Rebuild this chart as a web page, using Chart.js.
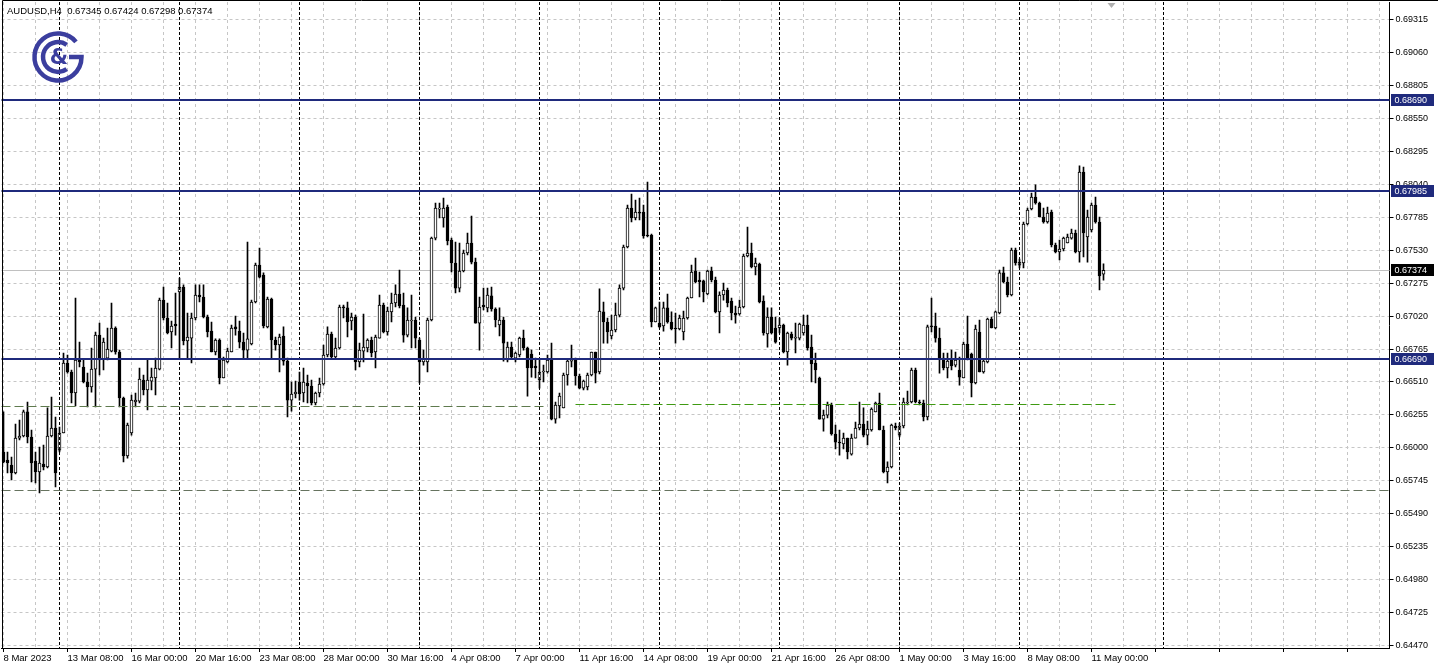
<!DOCTYPE html>
<html>
<head>
<meta charset="utf-8">
<script src="https://cdn.jsdelivr.net/npm/chart.js@4/dist/chart.umd.min.js"></script>
<style>
  html, body { margin: 0; padding: 0; background: #fff; }
</style>
</head>
<body>
<canvas id="chart" width="1438" height="671"></canvas>
<script>
(function () {
  const symbolTitle = "AUDUSD,H4  0.67345 0.67424 0.67298 0.67374";

  const timeLabels = [
    "8 Mar 2023", "13 Mar 08:00", "16 Mar 00:00", "20 Mar 16:00", "23 Mar 08:00",
    "28 Mar 00:00", "30 Mar 16:00", "4 Apr 08:00", "7 Apr 00:00", "11 Apr 16:00",
    "14 Apr 08:00", "19 Apr 00:00", "21 Apr 16:00", "26 Apr 08:00", "1 May 00:00",
    "3 May 16:00", "8 May 08:00", "11 May 00:00"
  ];
  const labelEvery = 16;   // one time label every 16 H4 bars
  const gridEvery = 8;
  const slotCount = 347;   // bars that fit in the window (incl. empty space on the right)

  const yTicks = [
    0.64470, 0.64725, 0.64980, 0.65235, 0.65490, 0.65745, 0.66000, 0.66255, 0.66510, 0.66765,
    0.67020, 0.67275, 0.67530, 0.67785, 0.68040, 0.68295, 0.68550, 0.68805, 0.69060, 0.69315
  ];
  const yMin = 0.64451;
  const yMax = 0.69451;

  const opens = [
    0.65968, 0.65906, 0.65867, 0.65806, 0.66076, 0.66092, 0.66278, 0.66084, 0.65898, 0.65813,
    0.65875, 0.65852, 0.66092, 0.66154, 0.65983, 0.66115, 0.66657, 0.66587, 0.66425, 0.66688,
    0.66626, 0.66510, 0.66471, 0.66610, 0.66873, 0.66688, 0.66695, 0.66749, 0.66928, 0.66742,
    0.66386, 0.65937, 0.66115, 0.66355, 0.66362, 0.66525, 0.66448, 0.66517, 0.66541, 0.66610,
    0.67144, 0.67005, 0.66897, 0.66959, 0.67207, 0.67245, 0.66827, 0.66850, 0.67005, 0.67183,
    0.67168, 0.67013, 0.66904, 0.66742, 0.66835, 0.66541, 0.66665, 0.66742, 0.66936, 0.66904,
    0.66819, 0.66757, 0.66804, 0.67129, 0.67415, 0.67338, 0.66936, 0.67152, 0.66835, 0.66796,
    0.66866, 0.66672, 0.66370, 0.66417, 0.66510, 0.66425, 0.66502, 0.66479, 0.66347, 0.66425,
    0.66494, 0.66719, 0.66881, 0.66703, 0.66773, 0.67090, 0.67083, 0.66982, 0.67013, 0.66665,
    0.66749, 0.66773, 0.66835, 0.66742, 0.66850, 0.67106, 0.66897, 0.67052, 0.67121, 0.67191,
    0.67106, 0.66873, 0.66982, 0.66990, 0.66835, 0.66665, 0.66665, 0.66990, 0.67624, 0.67848,
    0.67779, 0.67864, 0.67609, 0.67431, 0.67237, 0.67369, 0.67508, 0.67586, 0.67438, 0.66966,
    0.67106, 0.67083, 0.67176, 0.67075, 0.66951, 0.66990, 0.66680, 0.66780, 0.66695, 0.66719,
    0.66850, 0.66773, 0.66726, 0.66634, 0.66525, 0.66587, 0.66587, 0.66680, 0.66223, 0.66324,
    0.66309, 0.66564, 0.66672, 0.66688, 0.66556, 0.66463, 0.66471, 0.66564, 0.66742, 0.66587,
    0.67052, 0.66974, 0.66866, 0.66912, 0.67028, 0.67237, 0.67555, 0.67856, 0.67779, 0.67825,
    0.67825, 0.67647, 0.67647, 0.66974, 0.66966, 0.66943, 0.67083, 0.66974, 0.66928, 0.66920,
    0.66897, 0.67005, 0.67160, 0.67369, 0.67299, 0.67292, 0.67191, 0.67369, 0.67299, 0.67052,
    0.67183, 0.67222, 0.67137, 0.67044, 0.67036, 0.67090, 0.67485, 0.67508, 0.67400, 0.67423,
    0.67137, 0.66881, 0.67013, 0.66928, 0.66928, 0.66951, 0.66742, 0.66881, 0.66850, 0.66850,
    0.66889, 0.66951, 0.66780, 0.66657, 0.66541, 0.66223, 0.66254, 0.66332, 0.66107, 0.66045,
    0.66030, 0.66076, 0.65952, 0.66076, 0.66154, 0.66185, 0.66099, 0.66138, 0.66278, 0.66347,
    0.66138, 0.65813, 0.65852, 0.66169, 0.66099, 0.66169, 0.66347, 0.66355, 0.66603, 0.66355,
    0.66347, 0.66239, 0.66943, 0.66943, 0.66850, 0.66695, 0.66618, 0.66680, 0.66641, 0.66603,
    0.66541, 0.66804, 0.66726, 0.66502, 0.66897, 0.66587, 0.66665, 0.66997, 0.66928, 0.67044,
    0.67354, 0.67284, 0.67183, 0.67531, 0.67415, 0.67431, 0.67733, 0.67849, 0.67941, 0.67895,
    0.67787, 0.67748, 0.67825, 0.67570, 0.67516, 0.67539, 0.67586, 0.67624, 0.67663, 0.67516,
    0.68135, 0.67632, 0.67686, 0.67879, 0.67748, 0.67345
  ];
  const highs = [
    0.66278, 0.65968, 0.65929, 0.66185, 0.66216, 0.66293, 0.66355, 0.66138, 0.65968, 0.66007,
    0.66022, 0.66309, 0.66393, 0.66239, 0.66161, 0.66734, 0.66719, 0.66603, 0.67160, 0.66819,
    0.66680, 0.66579, 0.66773, 0.66897, 0.66966, 0.66850, 0.66928, 0.67121, 0.66936, 0.66757,
    0.66393, 0.66192, 0.66409, 0.66425, 0.66618, 0.66564, 0.66688, 0.66618, 0.66695, 0.67160,
    0.67245, 0.67121, 0.66982, 0.67199, 0.67315, 0.67261, 0.67044, 0.67044, 0.67261, 0.67261,
    0.67261, 0.67028, 0.66974, 0.66843, 0.66843, 0.66703, 0.66773, 0.66951, 0.67021, 0.66982,
    0.66889, 0.67593, 0.67144, 0.67431, 0.67547, 0.67354, 0.67168, 0.67160, 0.66858, 0.66881,
    0.66936, 0.66695, 0.66510, 0.66517, 0.66587, 0.66618, 0.66564, 0.66525, 0.66432, 0.66541,
    0.66796, 0.66936, 0.66897, 0.66850, 0.67106, 0.67106, 0.67129, 0.67044, 0.67028, 0.66811,
    0.67036, 0.66843, 0.66858, 0.66873, 0.67183, 0.67121, 0.67090, 0.67199, 0.67261, 0.67377,
    0.67199, 0.67083, 0.67183, 0.67013, 0.66850, 0.66757, 0.67005, 0.67632, 0.67895, 0.67895,
    0.67934, 0.67879, 0.67624, 0.67593, 0.67586, 0.67531, 0.67663, 0.67795, 0.67469, 0.67168,
    0.67237, 0.67237, 0.67245, 0.67083, 0.67083, 0.67013, 0.66819, 0.66819, 0.66742, 0.66858,
    0.66912, 0.66780, 0.66757, 0.66695, 0.66680, 0.66641, 0.66719, 0.66811, 0.66355, 0.66425,
    0.66579, 0.66680, 0.66796, 0.66695, 0.66572, 0.66525, 0.66579, 0.66742, 0.66742, 0.67230,
    0.67129, 0.67005, 0.67028, 0.67121, 0.67261, 0.67570, 0.67879, 0.67965, 0.67918, 0.67934,
    0.67879, 0.68058, 0.67655, 0.67090, 0.67129, 0.67129, 0.67191, 0.67052, 0.67044, 0.67028,
    0.67059, 0.67168, 0.67415, 0.67469, 0.67361, 0.67299, 0.67377, 0.67400, 0.67322, 0.67207,
    0.67276, 0.67237, 0.67160, 0.67098, 0.67144, 0.67500, 0.67709, 0.67586, 0.67469, 0.67431,
    0.67176, 0.67083, 0.67083, 0.67013, 0.67005, 0.66959, 0.66897, 0.66897, 0.66966, 0.66966,
    0.67028, 0.67028, 0.66873, 0.66734, 0.66548, 0.66293, 0.66355, 0.66347, 0.66177, 0.66138,
    0.66115, 0.66076, 0.66107, 0.66200, 0.66355, 0.66309, 0.66208, 0.66309, 0.66355, 0.66425,
    0.66169, 0.65891, 0.66185, 0.66192, 0.66192, 0.66386, 0.66440, 0.66618, 0.66618, 0.66370,
    0.66370, 0.66951, 0.67160, 0.67044, 0.66928, 0.66734, 0.66734, 0.66757, 0.66742, 0.66703,
    0.66819, 0.67021, 0.66734, 0.66951, 0.66990, 0.66688, 0.67005, 0.67013, 0.67059, 0.67377,
    0.67400, 0.67322, 0.67547, 0.67547, 0.67462, 0.67748, 0.67856, 0.67972, 0.68035, 0.67903,
    0.67856, 0.67864, 0.67841, 0.67586, 0.67609, 0.67632, 0.67655, 0.67694, 0.67686, 0.68182,
    0.68174, 0.67841, 0.67895, 0.67941, 0.67787, 0.67424
  ];
  const lows = [
    0.65883, 0.65806, 0.65751, 0.65798, 0.66061, 0.66084, 0.66038, 0.65736, 0.65728, 0.65651,
    0.65829, 0.65844, 0.66084, 0.65697, 0.65968, 0.66115, 0.66579, 0.66347, 0.66324, 0.66626,
    0.66502, 0.66316, 0.66432, 0.66316, 0.66564, 0.66603, 0.66680, 0.66742, 0.66726, 0.66316,
    0.65891, 0.65921, 0.66099, 0.66316, 0.66347, 0.66409, 0.66293, 0.66448, 0.66409, 0.66603,
    0.66990, 0.66881, 0.66773, 0.66873, 0.66695, 0.66796, 0.66695, 0.66657, 0.66990, 0.67129,
    0.67005, 0.66858, 0.66742, 0.66719, 0.66494, 0.66541, 0.66657, 0.66742, 0.66873, 0.66773,
    0.66695, 0.66695, 0.66796, 0.67121, 0.67315, 0.66928, 0.66928, 0.66695, 0.66757, 0.66587,
    0.66641, 0.66239, 0.66285, 0.66386, 0.66370, 0.66355, 0.66347, 0.66332, 0.66332, 0.66394,
    0.66486, 0.66703, 0.66695, 0.66695, 0.66765, 0.67005, 0.66858, 0.66912, 0.66603, 0.66626,
    0.66665, 0.66742, 0.66703, 0.66618, 0.66850, 0.66889, 0.66873, 0.66974, 0.67090, 0.67083,
    0.66819, 0.66858, 0.66773, 0.66773, 0.66502, 0.66641, 0.66587, 0.66982, 0.67609, 0.67779,
    0.67709, 0.67570, 0.67361, 0.67199, 0.67207, 0.67361, 0.67493, 0.67423, 0.66966, 0.66757,
    0.67067, 0.67052, 0.67059, 0.66936, 0.66866, 0.66672, 0.66665, 0.66695, 0.66665, 0.66703,
    0.66757, 0.66401, 0.66548, 0.66541, 0.66463, 0.66510, 0.66579, 0.66216, 0.66192, 0.66231,
    0.66309, 0.66486, 0.66626, 0.66486, 0.66456, 0.66448, 0.66448, 0.66556, 0.66502, 0.66572,
    0.66811, 0.66811, 0.66843, 0.66897, 0.67013, 0.67222, 0.67547, 0.67748, 0.67764, 0.67764,
    0.67624, 0.67632, 0.66936, 0.66974, 0.66928, 0.66904, 0.66966, 0.66912, 0.66811, 0.66912,
    0.66835, 0.66997, 0.67160, 0.67276, 0.67168, 0.67129, 0.67183, 0.67284, 0.67044, 0.66889,
    0.67144, 0.67090, 0.66990, 0.66966, 0.67028, 0.67083, 0.67477, 0.67392, 0.67338, 0.67121,
    0.66873, 0.66780, 0.66881, 0.66811, 0.66889, 0.66734, 0.66641, 0.66835, 0.66734, 0.66835,
    0.66873, 0.66757, 0.66510, 0.66502, 0.66223, 0.66130, 0.66231, 0.66099, 0.65991, 0.65944,
    0.65991, 0.65914, 0.65944, 0.66076, 0.66138, 0.66084, 0.66022, 0.66130, 0.66278, 0.66138,
    0.65806, 0.65728, 0.65844, 0.66138, 0.66084, 0.66154, 0.66332, 0.66347, 0.66347, 0.66332,
    0.66208, 0.66216, 0.66897, 0.66819, 0.66579, 0.66603, 0.66541, 0.66603, 0.66626, 0.66486,
    0.66541, 0.66680, 0.66394, 0.66494, 0.66587, 0.66579, 0.66657, 0.66928, 0.66920, 0.67036,
    0.67276, 0.67168, 0.67176, 0.67415, 0.67392, 0.67392, 0.67725, 0.67841, 0.67887, 0.67787,
    0.67740, 0.67740, 0.67555, 0.67508, 0.67454, 0.67524, 0.67586, 0.67616, 0.67508, 0.67438,
    0.67477, 0.67438, 0.67671, 0.67740, 0.67222, 0.67298
  ];
  const closes = [
    0.65891, 0.65883, 0.65806, 0.66076, 0.66092, 0.66278, 0.66084, 0.65883, 0.65813, 0.65883,
    0.65852, 0.66092, 0.66154, 0.65806, 0.66115, 0.66657, 0.66587, 0.66425, 0.66680, 0.66665,
    0.66510, 0.66471, 0.66610, 0.66873, 0.66680, 0.66819, 0.66765, 0.66928, 0.66742, 0.66386,
    0.65937, 0.66177, 0.66370, 0.66370, 0.66533, 0.66448, 0.66525, 0.66548, 0.66618, 0.67144,
    0.67005, 0.66889, 0.66943, 0.66943, 0.67245, 0.66827, 0.66858, 0.67005, 0.67183, 0.67168,
    0.67013, 0.66897, 0.66742, 0.66835, 0.66541, 0.66680, 0.66749, 0.66928, 0.66920, 0.66819,
    0.66757, 0.66843, 0.67129, 0.67415, 0.67322, 0.66943, 0.67152, 0.66835, 0.66796, 0.66858,
    0.66672, 0.66370, 0.66417, 0.66432, 0.66417, 0.66510, 0.66479, 0.66347, 0.66425, 0.66494,
    0.66719, 0.66881, 0.66703, 0.66773, 0.67090, 0.67083, 0.66974, 0.67013, 0.66665, 0.66757,
    0.66780, 0.66835, 0.66734, 0.66858, 0.67106, 0.66897, 0.67059, 0.67121, 0.67191, 0.67098,
    0.66873, 0.66990, 0.66990, 0.66850, 0.66665, 0.66688, 0.66990, 0.67624, 0.67856, 0.67856,
    0.67856, 0.67601, 0.67431, 0.67237, 0.67369, 0.67508, 0.67586, 0.67438, 0.66966, 0.67090,
    0.67090, 0.67183, 0.67075, 0.66990, 0.66990, 0.66811, 0.66780, 0.66703, 0.66734, 0.66850,
    0.66773, 0.66618, 0.66618, 0.66618, 0.66587, 0.66595, 0.66680, 0.66223, 0.66332, 0.66401,
    0.66564, 0.66672, 0.66680, 0.66556, 0.66463, 0.66517, 0.66564, 0.66742, 0.66579, 0.67059,
    0.66974, 0.66897, 0.66912, 0.67028, 0.67237, 0.67555, 0.67856, 0.67779, 0.67825, 0.67817,
    0.67640, 0.67640, 0.66974, 0.67083, 0.66936, 0.67083, 0.66974, 0.66920, 0.66920, 0.67005,
    0.67005, 0.67160, 0.67361, 0.67284, 0.67284, 0.67207, 0.67369, 0.67299, 0.67052, 0.67183,
    0.67222, 0.67121, 0.67044, 0.67028, 0.67090, 0.67485, 0.67508, 0.67400, 0.67431, 0.67129,
    0.66889, 0.67013, 0.66889, 0.66819, 0.66951, 0.66742, 0.66889, 0.66850, 0.66858, 0.66959,
    0.66951, 0.66773, 0.66649, 0.66603, 0.66223, 0.66254, 0.66332, 0.66107, 0.66045, 0.66038,
    0.66076, 0.65968, 0.66076, 0.66154, 0.66185, 0.66099, 0.66146, 0.66301, 0.66347, 0.66138,
    0.65813, 0.65852, 0.66177, 0.66154, 0.66169, 0.66355, 0.66355, 0.66603, 0.66355, 0.66347,
    0.66239, 0.66936, 0.66936, 0.66850, 0.66695, 0.66618, 0.66672, 0.66634, 0.66680, 0.66548,
    0.66804, 0.66688, 0.66502, 0.66920, 0.66587, 0.66672, 0.66997, 0.66928, 0.67052, 0.67354,
    0.67284, 0.67183, 0.67531, 0.67431, 0.67438, 0.67733, 0.67841, 0.67941, 0.67895, 0.67787,
    0.67748, 0.67817, 0.67570, 0.67516, 0.67539, 0.67624, 0.67632, 0.67663, 0.67516, 0.68135,
    0.67663, 0.67787, 0.67879, 0.67748, 0.67330, 0.67374
  ];

  // horizontal objects drawn on the chart
  const navyLevels = [0.68690, 0.67985, 0.66690];
  const lastPrice = 0.67374;
  const dashLevels = [0.66324, 0.66339, 0.65677];
  const dashFrom = [0, 143, 0];
  const dashTo = [136, 278, 346];
  const weekSeparators = [14, 44, 74, 104, 134, 164, 194, 224, 254, 290];

  const FONT = "Liberation Sans";
  const gridColor = "#c6c6c6";
  const navy = "#1f2a7c";
  const dashColors = ["#5f7a4e", "#3f9a12", "#66735f"];
  const logoColor = "#3b3e9e";

  const categories = Array.from({ length: slotCount }, (_, i) =>
    i % labelEvery === 0 && timeLabels[i / labelEvery] ? timeLabels[i / labelEvery] : "");

  function drawLogo(ctx) {
    const cx = 58, cy = 57;
    ctx.save();
    ctx.strokeStyle = logoColor;
    ctx.lineWidth = 4.5;
    ctx.beginPath();
    ctx.arc(cx, cy, 23.5, -0.7, 0, true);
    ctx.lineTo(cx + 11, cy);
    ctx.stroke();
    ctx.beginPath();
    ctx.arc(cx, cy, 15, -0.95, 0.95, true);
    ctx.stroke();
    ctx.fillStyle = logoColor;
    ctx.font = 'bold 21px "DejaVu Sans"';
    ctx.textAlign = "center";
    ctx.textBaseline = "middle";
    ctx.fillText("&", cx + 1, cy + 2);
    ctx.restore();
  }

  function priceBox(ctx, area, py, text, fill) {
    ctx.fillStyle = fill;
    ctx.fillRect(area.right + 1.5, Math.round(py) - 6, 43, 12);
    ctx.fillStyle = "#fff";
    ctx.font = "9px " + FONT;
    ctx.textAlign = "left";
    ctx.textBaseline = "middle";
    ctx.fillText(text, area.right + 5, Math.round(py) + 0.5);
  }

  const overlay = {
    id: "overlay",
    beforeDatasetsDraw(chart) {
      const { ctx, chartArea: a, scales: { y } } = chart;
      const py = Math.round(y.getPixelForValue(lastPrice)) + 0.5;
      ctx.save();
      ctx.strokeStyle = "#c0c0c0";
      ctx.lineWidth = 1;
      ctx.beginPath();
      ctx.moveTo(a.left, py);
      ctx.lineTo(a.right, py);
      ctx.stroke();
      ctx.restore();
    },
    afterDatasetsDraw(chart) {
      const { ctx, chartArea: a, scales: { x, y } } = chart;
      ctx.save();
      // weekly separators
      ctx.strokeStyle = "#000";
      ctx.lineWidth = 1;
      ctx.setLineDash([3, 2]);
      weekSeparators.forEach(i => {
        const px = Math.floor(x.getPixelForValue(i)) + 0.5;
        ctx.beginPath();
        ctx.moveTo(px, a.top);
        ctx.lineTo(px, a.bottom);
        ctx.stroke();
      });
      // dashed levels
      ctx.setLineDash([9, 4]);
      dashLevels.forEach((v, k) => {
        const py = Math.round(y.getPixelForValue(v)) + 0.5;
        const x1 = dashFrom[k] === 0 ? a.left : x.getPixelForValue(dashFrom[k]);
        const x2 = dashTo[k] >= slotCount - 1 ? a.right : x.getPixelForValue(dashTo[k]);
        ctx.strokeStyle = dashColors[k];
        ctx.beginPath();
        ctx.moveTo(x1, py);
        ctx.lineTo(x2, py);
        ctx.stroke();
      });
      // support / resistance lines
      ctx.setLineDash([]);
      ctx.strokeStyle = navy;
      ctx.lineWidth = 2;
      navyLevels.forEach(v => {
        const py = Math.round(y.getPixelForValue(v));
        ctx.beginPath();
        ctx.moveTo(a.left, py);
        ctx.lineTo(a.right, py);
        ctx.stroke();
      });
      ctx.restore();
    },
    afterDraw(chart) {
      const { ctx, chartArea: a, scales: { x, y } } = chart;
      ctx.save();
      navyLevels.forEach(v => priceBox(ctx, a, y.getPixelForValue(v), v.toFixed(5), navy));
      priceBox(ctx, a, y.getPixelForValue(lastPrice), lastPrice.toFixed(5), "#000");

      // frame
      ctx.strokeStyle = "#000";
      ctx.lineWidth = 1;
      ctx.beginPath();
      ctx.moveTo(2.5, a.bottom);
      ctx.lineTo(2.5, 0.5);
      ctx.lineTo(1438, 0.5);
      ctx.stroke();

      // chart shift marker
      const sx = x.getPixelForValue(opens.length + 1);
      ctx.fillStyle = "#b0b0b0";
      ctx.beginPath();
      ctx.moveTo(sx - 4, 3);
      ctx.lineTo(sx + 4, 3);
      ctx.lineTo(sx, 8);
      ctx.closePath();
      ctx.fill();

      // symbol line
      ctx.fillStyle = "#000";
      ctx.font = "9.5px " + FONT;
      ctx.textAlign = "left";
      ctx.textBaseline = "middle";
      ctx.fillText(symbolTitle, 7, 11);

      drawLogo(ctx);
      ctx.restore();
    }
  };

  new Chart(document.getElementById("chart"), {
    type: "bar",
    data: {
      labels: categories,
      datasets: [
        {
          label: "body",
          data: opens.map((o, i) => [o, closes[i]]),
          backgroundColor: opens.map((o, i) => (closes[i] >= o ? "#ffffff" : "#000000")),
          borderColor: "#000",
          borderWidth: 1,
          borderSkipped: false,
          barThickness: 3,
          minBarLength: 1,
          grouped: false,
          order: 1
        },
        {
          label: "wick",
          data: lows.map((l, i) => [l, highs[i]]),
          backgroundColor: "#000",
          borderWidth: 0,
          barThickness: 1,
          grouped: false,
          order: 2
        }
      ]
    },
    options: {
      responsive: false,
      animation: false,
      events: [],
      layout: { padding: { left: 1.5, top: 2, right: 0, bottom: 0 } },
      plugins: {
        legend: { display: false },
        tooltip: { enabled: false },
        title: { display: false }
      },
      scales: {
        x: {
          type: "category",
          offset: true,
          grid: {
            offset: false,
            color: c => (c.index % gridEvery === 0 ? gridColor : "rgba(0,0,0,0)"),
            tickColor: c => (c.index % labelEvery === 0 ? "#000" : "rgba(0,0,0,0)"),
            tickLength: 4
          },
          border: { display: true, color: "#000", width: 1, dash: [3, 3] },
          ticks: {
            autoSkip: false,
            maxRotation: 0,
            minRotation: 0,
            align: "start",
            padding: 1,
            color: "#000",
            font: { family: FONT, size: 9.5 }
          },
          afterFit: s => {
            s.height = 23;
            s.paddingLeft = 0;
            s.paddingRight = 0;
          }
        },
        y: {
          type: "linear",
          position: "right",
          min: yMin,
          max: yMax,
          afterBuildTicks: s => { s.ticks = yTicks.map(v => ({ value: v })); },
          grid: { color: gridColor, tickColor: "#000", tickLength: 4 },
          border: { display: true, color: "#000", width: 1, dash: [3, 3] },
          ticks: {
            autoSkip: false,
            padding: 2,
            color: "#000",
            font: { family: FONT, size: 9 },
            callback: v => v.toFixed(5)
          },
          afterFit: s => {
            s.width = 48.5;
            s.paddingTop = 0;
            s.paddingBottom = 0;
          }
        }
      }
    },
    plugins: [overlay]
  });
})();
</script>
</body>
</html>
